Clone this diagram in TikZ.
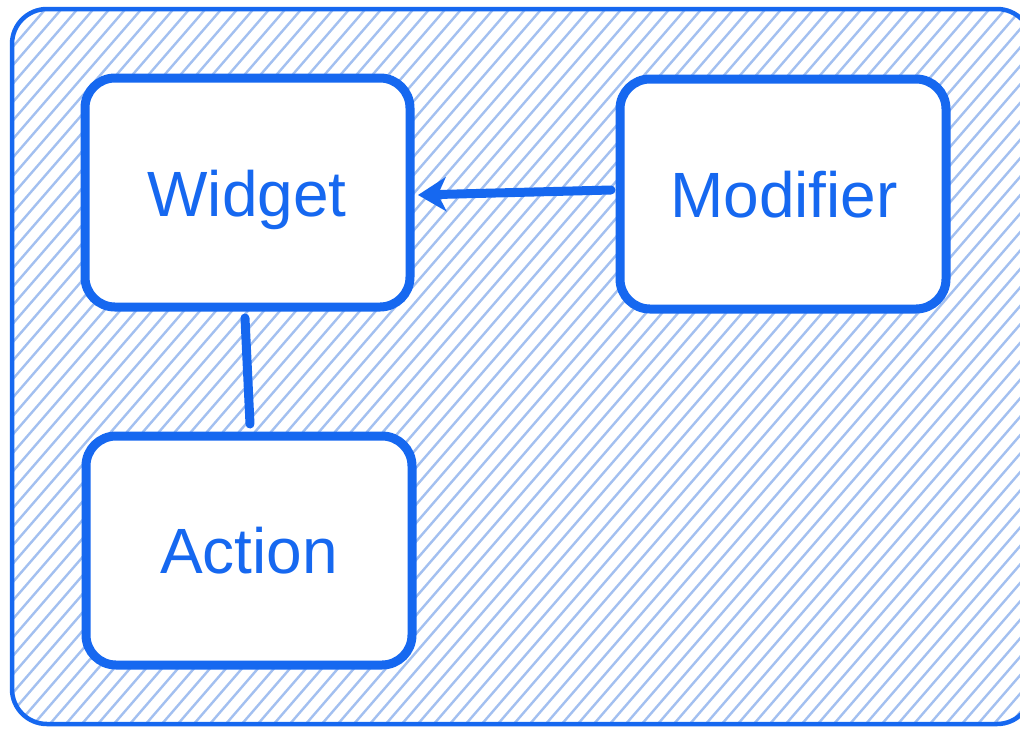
\documentclass[tikz,border=0pt]{standalone}
\usepackage{fontspec}
\setmainfont{Liberation Sans}
\usetikzlibrary{arrows.meta}
\definecolor{boxblue}{RGB}{22,104,240}
\definecolor{hatch}{RGB}{163,192,240}
\tikzset{
  card/.style={draw=boxblue, line width=9pt, fill=white, rounded corners=30pt},
  label/.style={text=boxblue, font=\fontsize{64}{70}\selectfont},
  conn/.style={draw=boxblue, line width=9pt, line cap=round}
}
\begin{document}
\begin{tikzpicture}[x=1pt,y=-1pt]
\useasboundingbox (0,0) rectangle (1020,729);
\fill[white] (0,0) rectangle (1020,729);
% outer hatched frame
\begin{scope}
  \clip[rounded corners=35pt] (12,9) rectangle (1032,724);
  \foreach \i in {-700,-684,...,1100} {
    \draw[hatch, line width=2.4pt] (\i,740) -- ({\i+650},-10);
  }
\end{scope}
\draw[boxblue, line width=4.5pt, rounded corners=35pt] (12,9) rectangle (1032,724);
% boxes
\draw[card] (85,78) rectangle (410,307);
\draw[card] (620,79) rectangle (946,309);
\draw[card] (86,436) rectangle (412,665);
\node[label] (widget) at (247,200) {Widget};
\node[label] (modifier) at (784,195) {Modifier};
\node[label] (action) at (249,551) {Action};
\coordinate (wr) at (418,195);
\coordinate (ml) at (611,190);
\coordinate (wb) at (245,318);
\coordinate (at) at (250,424);
\draw[conn, -{Stealth[length=28pt,width=34pt,inset=8pt]}] (ml) -- (wr);
\draw[conn] (wb) -- (at);
\end{tikzpicture}
\end{document}
